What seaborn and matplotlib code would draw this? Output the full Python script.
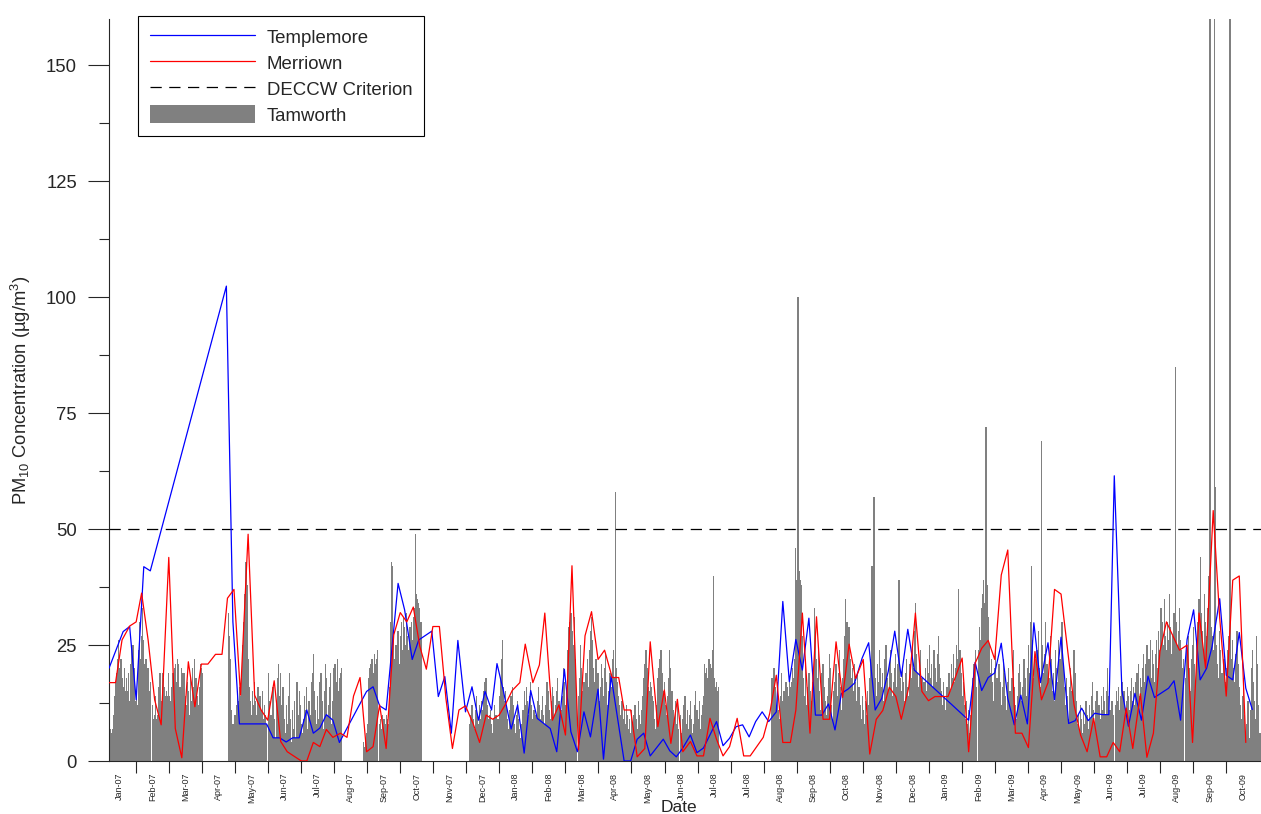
import numpy as np
import pandas as pd
import matplotlib
matplotlib.use('Agg')
import matplotlib.pyplot as plt
import seaborn as sns
from matplotlib.lines import Line2D
from matplotlib.patches import Patch

na = np.nan

# Tamworth daily PM10 (ug/m3); day 0 = first day on the axis, gaps = no data
tam_start = [0, 40, 110, 147, 234, 332, 610, 800, 991]
tam_jan07 = [11, 7, 6, 7, 10, 14, 17, 19, 22, 26, 20, 22, 18, 16, 20, 15, 18, 15, 19, 13,
             21, 25, 25, 20, 13, 14, 12, 24, 30, 22, 27, 33, 26, 21, 22, 18, 20, 15, 17]
tam_feb07 = [12, 9, 10, 14, 9, 10, 16, 19, 13, 19, 18, 16, 14, 15, 14, 19, 14, 13, 16, 19,
             20, 21, 17, 22, 21, 16, 16, 20, 19, 19, 14, 12, 17, 15, 10, 18, 13, 20, 16, 22,
             18, 14, 12, 16, 21, 20, 19]
tam_apr07 = [32, 27, 22, 11, 8, 7, 10, 12, 15, 13, 16, 14, 18, 25, 30, 36, 43, 38, 22, 16,
             13, 10, 15, 12, 17, 13, 10, 16, 12, 14, 11, 15, 9, 12, 10, 8]
tam_may07 = [19, 13, 10, 6, 16, 9, 5, 13, 18, 21, 14, 19, 12, 16, 9, 6, 12, 8, 14, 19,
             9, 4, 11, 7, 13, 5, 17, 10, 15, 12, 8, 6, 9, 14, 11, 16, 7, 13, 10, 17,
             19, 23, 15, 11, 8, 14, 9, 17, 19, 13, 7, 15, 21, 18, 10, 12, 16, 19, 8, 13,
             20, 21, 17, 22, 15, 18, 19, 20]
tam_aug07 = [4, 3, 5, 6, 8, 18, 20, 21, 22, 19, 23, 21, 22, 24, na, 8, 9, 7, 10, 9,
             8, 10, 9, 8, 16, 30, 43, 42, 27, 22, 25, 19, 28, 21, 27, 30, 24, 31, 29, 25,
             32, 27, 24, 29, 30, 26, 31, 33, 49, 36, 35, 34, 33, 30]
tam_nov07 = [8, 10, 12, 9, 7, 11, 14, 10, 8, 12, 9, 13, 11, 15, 17, 18, 12, 9, 10,
             11, 8, 6, 9, 12, 10, 7, 9, 14, 18, 22, 26, 16, 13, 15, 12, 9, 7, 11, 14,
             16, 12, 8, 6, 10, 13, 9, 7, 5, 8, 11, 15, 12, 16, 13, 10, 14, 17, 12, 9,
             11, 8, 10, 13, 16, 12, 9, 11, 14, 10, 8, 12, 17, 15, 11, 9, 13, 16, 14, 10,
             12, 15, 18, 13, 9, 11, 14, 20, 17, 12, 15, 24, 29, 30, 32, 28, 25, 31, 22, 15,
             na, 14, 18, 25, 20, 15, 17, 12, 19, 22, 16, 24, 28, 31, 26, 20, 17, 22, 15, 19,
             13, 16, 21, 18, 14, 20, 23, 17, 12, 15, 19, 16, 22, 24, 18, 58, 20, 17, 14, 12,
             10, 13, 9, 11, 8, 12, 10, 7, 9, 6, 11, 8, 10, 12, 9, 7, 13, 10, 8, 11,
             14, 18, 21, 24, 20, 16, 15, 17, 16, 14, 13, 9, 7, 12, 18, 20, 22, 24, 19, 15,
             17, 12, 10, 14, 18, 24, 20, 15, 11, 9, 13, 8, 12, 7, na, 10, 6, 9, 12, 14,
             8, 11, 7, 10, 13, 9, 6, 8, 12, 15, 11, 9, 13, 7, 10, 12, 14, 21, 19, 20,
             18, 22, 21, 20, 24, 40, 18, 16, 17, 15, 16]
tam_aug08 = [18, 14, 20, 16, 12, 17, 11, 9, 14, 19, 13, 15, 12, 17, 16, 14, 18, 16, 17, 20,
             18, 22, 46, 39, 100, 41, 39, 38, 27, 18, 14, 22, 12, 16, 19, 15, 13, 17, 20, 33,
             27, 22, 18, 24, 15, 11, 19, 21, 16, 13, 10, 14, 18, 23, 20, 12, 9, 15, 17, 21,
             14, 19, 24, 16, 11, 18, 22, 27, 35, 30, 25, 29, 22, 18, 20, 15, 21, 17, 13, 19,
             16, 12, 9, 14, 11, 8, 13, 10, 15, 12, 18, 22, 42, 20, 57, 18, 14, 21, 17, 24,
             20, 16, 19, 13, 22, 25, 18, 15, 21, 24, 19, 14, 17, 20, 23, 16, 21, 39, 18, 15,
             20, 17, 13, 19, 22, 16, 14, 21, 18, 25, 20, 28, 34, 23, 19, 16, 21, 24, 18, 14,
             17, 20, 15, 22, 19, 25, 18, 21, 16, 24, 20, 17, 23, 27, 21, 18, 15, 12, 17, 14,
             11, 16, 13, 19, 15, 21, 18, 23, 17, 20, 25, 22, 37, 24, 19, 14, 17, 12, 9, 13,
             8, 11, 6, 10, 14, 18, 21, 24, 16]
tam_feb09 = [24, 29, 26, 33, 36, 39, 34, 72, 38, 31, 25, 19, 22, 17, 13, 20, 24, 18, 15, 21,
             17, 12, 16, 22, 19, 14, 11, 17, 20, 15, 13, 18, 24, 16, 12, 9, 14, 19, 21, 17,
             13, 16, 22, 18, 14, 20, 25, 19, 30, 42, 26, 18, 22, 17, 24, 28, 20, 16, 69, 25,
             19, 23, 30, 21, 16, 18, 27, 22, 15, 19, 13, 24, 20, 17, 26, 22, 18, 30, 21, 16,
             12, 18, 14, 9, 16, 20, 15, 11, 24, 19, 13, 8, 10, 7, 12, 9, 6, 11, 8, 13,
             10, 7, 12, 9, 14, 17, 11, 8, 13, 15, 10, 12, 9, 14, 11, 16, 13, 10, 15, 20,
             14, 11, 9, 13, 10, na, 12, 15, 13, 16, 11, 14, 17, 12, 15, 10, 13, 16, 14, 11,
             15, 18, 13, 16, 12, 17, 19, 21, 14, 18, 16, 20, 23, 17, 21, 25, 19, 22, 26, 18,
             24, 21, 17, 23, 26, 20, 28, 24, 33, 30, 25, 35, 27, 24, 30, 26, 36, 29, 23, 27,
             32, 85, 30, 25, 28, 33, 26, 24, 20, 22]
tam_aug09 = [18, 24, 27, 20, 15, 22, 25, 29, 21, 17, 26, 30, 35, 44, 32, 28, 24, 36, 30, 27,
             33, 40, 180, 29, 27, 24, 180, 59, 25, 21, 18, 28, 24, 19, 15, 22, 17, 20, 24, 27,
             180, 180, 22, 26, 20, 17, 23, 28, 21, 16, 12, 9, 14, 18, 10, 6, 8, 13, 5, 11,
             20, 24, 17, 13, 9, 27, 21, 12, 6, 5]
tam_segs = [tam_jan07, tam_feb07, tam_apr07, tam_may07, tam_aug07,
            tam_nov07, tam_aug08, tam_feb09, tam_aug09]

# Templemore (1-in-6 day samples)
temple_day = [0, 13, 19, 25, 32, 38, 108, 114, 120, 126, 132, 139, 145, 151, 157, 163, 169,
              175, 182, 188, 194, 200, 206, 212, 237, 243, 249, 255, 266, 272, 279, 285,
              297, 303, 309, 315, 321, 328, 334, 340, 346, 352, 357, 363, 370, 376, 382,
              388, 394, 406, 412, 419, 425, 431, 437, 443, 450, 455, 462, 474, 480, 486,
              492, 498, 510, 516, 522, 528, 535, 541, 547, 559, 565, 571, 577, 583, 589,
              595, 601, 607, 614, 620, 626, 632, 638, 644, 650, 656, 662, 668, 674, 680,
              686, 693, 699, 705, 711, 717, 723, 729, 735, 741, 791, 797, 803, 809, 815,
              821, 827, 833, 839, 845, 851, 857, 864, 870, 876, 883, 889, 895, 901, 907,
              914, 920, 925, 932, 938, 944, 950, 956, 962, 975, 980, 986, 992, 998, 1004,
              1010, 1015, 1022, 1028, 1034, 1040, 1046, 1052]
temple_pm = [20, 27.9, 29, 13.2, 41.9, 41, 102.4, 30, 8, 8, 8, 8, 8, 5, 5, 4.1, 5,
             5, 11, 6, 7.1, 10, 8.8, 4, 15, 16, 11.9, 11, 38.3, 32.6, 21.9, 26.1,
             28, 13.9, 18.2, 6, 26, 10.6, 16, 8.8, 15, 11, 21, 15, 6.9, 12.1, 1.7,
             15.2, 9.2, 7, 2, 19.8, 6.3, 2, 10.6, 5.2, 15.5, 0.4, 18.3, 0, 0, 4.7,
             6, 1.1, 4.7, 2.2, 0.9, 2.8, 5.6, 1.8, 2.8, 8.5, 3.3, 4.9, 7.4, 7.8, 5.2,
             8.5, 10.6, 8.5, 10.6, 34.4, 17.1, 26.2, 19.6, 30.8, 9.9, 9.9, 12.3, 6.7, 14.6, 15.5,
             16.8, 22.2, 25.5, 11, 13.5, 19.3, 28, 18.2, 28.4, 19.6, 8.8, 21.3, 15.2, 18, 19,
             25.4, 13.5, 7.8, 14.2, 8, 29.8, 16.9, 25.5, 13.2, 26.7, 8.1, 8.7, 11.4, 8.7, 10.3,
             10, 10, 61.5, 15.3, 7.5, 14.6, 8.8, 18.3, 13.7, 15.7, 17.3, 8.8, 26.2, 32.6, 17.5,
             20, 24.7, 35, 18.5, 17.5, 27.7, 15.7, 11.1]

# Merriown (1-in-6 day samples)
merri_day = [0, 6, 12, 19, 25, 30, 36, 42, 48, 55, 61, 67, 73, 79, 85, 91, 98, 104, 109,
             115, 121, 128, 134, 140, 146, 152, 158, 164, 177, 182, 188, 194, 200, 206,
             213, 219, 225, 231, 237, 243, 249, 255, 262, 268, 274, 280, 286, 292, 298,
             304, 310, 316, 322, 328, 335, 341, 347, 353, 359, 365, 371, 378, 383, 390,
             396, 401, 408, 414, 420, 426, 432, 438, 444, 450, 456, 463, 469, 474, 480,
             486, 493, 498, 505, 511, 517, 523, 528, 535, 541, 547, 553, 559, 565, 571,
             578, 584, 590, 596, 602, 608, 614, 620, 627, 632, 638, 645, 651, 657, 663,
             669, 675, 681, 687, 694, 700, 706, 712, 718, 724, 729, 736, 742, 748, 754,
             760, 766, 772, 779, 785, 791, 797, 803, 809, 815, 821, 827, 834, 840, 846,
             852, 858, 864, 870, 876, 888, 894, 900, 906, 912, 918, 924, 930, 936, 942,
             949, 955, 961, 967, 973, 985, 992, 997, 1003, 1009, 1016, 1022, 1028, 1034,
             1040, 1046]
merri_pm = [16.9, 16.9, 26.1, 29.1, 30, 36.2, 26.1, 13.2, 7.8, 43.9, 7, 0.7, 21.4, 11.7,
            20.9, 20.9, 23, 23, 35.1, 37, 14.2, 48.9, 14.2, 11, 8.8, 17.3, 4.2, 2, 0, 0,
            4, 3.1, 6.8, 5.1, 6, 5.1, 14, 18, 2, 3.1, 12.1, 2.7, 27.2, 32, 30, 33.2, 24.7,
            19.8, 29, 29, 13.5, 2.7, 11, 11.9, 8.1, 4, 9.9, 9, 9.9, 12.3, 15.2, 16.9, 25.2,
            16.9, 20.7, 31.9, 8.8, 12.1, 5.6, 42.1, 2.4, 27, 32.2, 21.9, 23.9, 18, 18, 11,
            11, 0.9, 2.7, 25.7, 7.4, 15.3, 3.8, 13.3, 2, 4.2, 1.1, 1.1, 9.2, 4.7, 1.1, 3.1,
            9.2, 1.1, 1.1, 3.1, 5.1, 10.3, 18.5, 4, 4, 11, 31.9, 6, 31.1, 9, 9,
            25.7, 13.7, 25.2, 17.8, 21.9, 1.5, 9, 10.9, 15.9, 13.9, 9, 16, 31.9, 15, 13,
            13.9, 13.9, 13.9, 18.2, 22.2, 2, 21.1, 24.3, 26, 21.9, 40.1, 45.5, 6, 6, 2.9,
            23.6, 13.2, 16.9, 37, 36, 12.1, 5.6, 2, 9.2, 0.9, 0.9, 4, 2, 11.4, 2.7,
            14.5, 0.8, 6, 23.6, 30, 23.9, 25, 4, 31.9, 20, 54, 30.8, 14, 39,
            39.9, 4]

criterion = 50

month_labels = ['Jan-07', 'Feb-07', 'Mar-07', 'Apr-07', 'May-07', 'Jun-07', 'Jul-07',
                'Aug-07', 'Sep-07', 'Oct-07', 'Nov-07', 'Dec-07', 'Jan-08', 'Feb-08',
                'Mar-08', 'Apr-08', 'May-08', 'Jun-08', 'Jul-08', 'Jul-08', 'Aug-08',
                'Sep-08', 'Oct-08', 'Nov-08', 'Dec-08', 'Jan-09', 'Feb-09', 'Mar-09',
                'Apr-09', 'May-09', 'Jun-09', 'Jul-09', 'Aug-09', 'Sep-09', 'Oct-09']

# assemble the daily Tamworth table
days, vals = [], []
for start, seg in zip(tam_start, tam_segs):
    days += list(range(start, start + len(seg)))
    vals += seg
tam = pd.DataFrame({'day': days, 'pm10': vals}).dropna()

sns.set_style('ticks')
plt.rcParams['font.family'] = ['Liberation Sans', 'DejaVu Sans']
plt.rcParams['mathtext.fontset'] = 'custom'
plt.rcParams['mathtext.rm'] = 'Liberation Sans'
plt.rcParams['mathtext.default'] = 'regular'

fig = plt.figure(figsize=(12.61, 8.14), dpi=100)
ax = fig.add_axes([109 / 1261, 53 / 814, 1152 / 1261, 742 / 814])

sns.barplot(data=tam, x='day', y='pm10', native_scale=True, width=1.15,
            color='#808080', saturation=1, linewidth=0, errorbar=None, ax=ax, zorder=1)
ax.axhline(criterion, color='black', lw=0.9, dashes=(9, 6), zorder=2)
sns.lineplot(x=temple_day, y=temple_pm, color='#0000ff', lw=0.9, ax=ax, zorder=3)
sns.lineplot(x=merri_day, y=merri_pm, color='#ff0000', lw=0.9, ax=ax, zorder=3)

ax.set_xlim(0, 1060)
ax.set_ylim(0, 160)
sns.despine(ax=ax)
for s in ['left', 'bottom']:
    ax.spines[s].set_linewidth(0.8)

# y axis
ax.set_yticks(np.arange(0, 151, 25))
ax.set_yticks(np.arange(12.5, 160, 25), minor=True)
ax.tick_params(axis='y', which='major', length=15, width=0.8, labelsize=13.3, pad=8)
ax.tick_params(axis='y', which='minor', length=7.2, width=0.8)

# x axis: month boundaries as ticks, month names in between
month_len = 30.41
ax.set_xticks([24.6 + month_len * k for k in range(34)], labels=[])
ax.set_xticks([9.4 + month_len * k for k in range(len(month_labels))],
              labels=month_labels, minor=True)
ax.tick_params(axis='x', which='major', length=8.6, width=0.8)
ax.tick_params(axis='x', which='minor', length=0, labelsize=6.5, labelrotation=90, pad=8.5)

ax.set_xlabel('')
ax.set_ylabel('')
fig.text(21 / 1261, 1 - 390 / 814, 'PM$_{10}$ Concentration (µg/m$^3$)',
         rotation=90, ha='center', va='center', fontsize=13.2)
fig.text(679 / 1261, 1 - 812 / 814, 'Date', ha='center', va='baseline', fontsize=12.5)

handles = [Line2D([], [], color='#0000ff', lw=0.9),
           Line2D([], [], color='#ff0000', lw=0.9),
           Line2D([], [], color='black', lw=0.9, dashes=(9, 6)),
           Patch(facecolor='#808080', edgecolor='none')]
leg = ax.legend(handles, ['Templemore', 'Merriown', 'DECCW Criterion', 'Tamworth'],
                loc='upper left', bbox_to_anchor=(138 / 1261, 1 - 16 / 814),
                bbox_transform=fig.transFigure, borderaxespad=0, fontsize=13.4,
                handlelength=5.65, handleheight=1.1, handletextpad=0.65,
                labelspacing=0.36, borderpad=0.62, fancybox=False, framealpha=1,
                edgecolor='black')
leg.get_frame().set_linewidth(0.8)

fig.savefig('out.png', dpi=100)
